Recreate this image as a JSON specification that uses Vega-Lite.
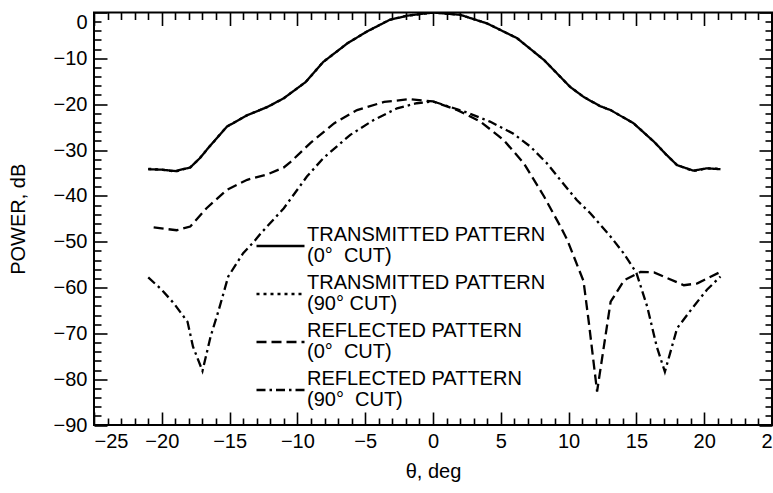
{
  "$schema": "https://vega.github.io/schema/vega-lite/v6.json",
  "width": 678,
  "height": 412.5,
  "autosize": {"type": "none"},
  "padding": {"left": 94, "top": 12.5, "right": 1, "bottom": 68},
  "background": "white",
  "data": {
    "values": [
      {"theta": -21.0, "power": -34.2, "series": "TRANSMITTED PATTERN|(0°\u00a0 CUT)"},
      {"theta": -20.0, "power": -34.3, "series": "TRANSMITTED PATTERN|(0°\u00a0 CUT)"},
      {"theta": -19.0, "power": -34.6, "series": "TRANSMITTED PATTERN|(0°\u00a0 CUT)"},
      {"theta": -17.9, "power": -33.8, "series": "TRANSMITTED PATTERN|(0°\u00a0 CUT)"},
      {"theta": -17.2, "power": -31.8, "series": "TRANSMITTED PATTERN|(0°\u00a0 CUT)"},
      {"theta": -16.5, "power": -29.3, "series": "TRANSMITTED PATTERN|(0°\u00a0 CUT)"},
      {"theta": -15.2, "power": -24.9, "series": "TRANSMITTED PATTERN|(0°\u00a0 CUT)"},
      {"theta": -13.7, "power": -22.4, "series": "TRANSMITTED PATTERN|(0°\u00a0 CUT)"},
      {"theta": -12.2, "power": -20.6, "series": "TRANSMITTED PATTERN|(0°\u00a0 CUT)"},
      {"theta": -11.0, "power": -18.7, "series": "TRANSMITTED PATTERN|(0°\u00a0 CUT)"},
      {"theta": -10.5, "power": -17.6, "series": "TRANSMITTED PATTERN|(0°\u00a0 CUT)"},
      {"theta": -9.4, "power": -15.2, "series": "TRANSMITTED PATTERN|(0°\u00a0 CUT)"},
      {"theta": -8.1, "power": -10.8, "series": "TRANSMITTED PATTERN|(0°\u00a0 CUT)"},
      {"theta": -6.3, "power": -6.7, "series": "TRANSMITTED PATTERN|(0°\u00a0 CUT)"},
      {"theta": -4.9, "power": -4.2, "series": "TRANSMITTED PATTERN|(0°\u00a0 CUT)"},
      {"theta": -3.2, "power": -1.6, "series": "TRANSMITTED PATTERN|(0°\u00a0 CUT)"},
      {"theta": -1.9, "power": -0.7, "series": "TRANSMITTED PATTERN|(0°\u00a0 CUT)"},
      {"theta": 0.0, "power": 0.0, "series": "TRANSMITTED PATTERN|(0°\u00a0 CUT)"},
      {"theta": 2.0, "power": -0.5, "series": "TRANSMITTED PATTERN|(0°\u00a0 CUT)"},
      {"theta": 4.0, "power": -2.4, "series": "TRANSMITTED PATTERN|(0°\u00a0 CUT)"},
      {"theta": 6.2, "power": -5.6, "series": "TRANSMITTED PATTERN|(0°\u00a0 CUT)"},
      {"theta": 8.2, "power": -10.4, "series": "TRANSMITTED PATTERN|(0°\u00a0 CUT)"},
      {"theta": 10.1, "power": -16.2, "series": "TRANSMITTED PATTERN|(0°\u00a0 CUT)"},
      {"theta": 11.1, "power": -18.4, "series": "TRANSMITTED PATTERN|(0°\u00a0 CUT)"},
      {"theta": 12.3, "power": -20.4, "series": "TRANSMITTED PATTERN|(0°\u00a0 CUT)"},
      {"theta": 13.1, "power": -21.3, "series": "TRANSMITTED PATTERN|(0°\u00a0 CUT)"},
      {"theta": 14.8, "power": -24.2, "series": "TRANSMITTED PATTERN|(0°\u00a0 CUT)"},
      {"theta": 16.3, "power": -28.2, "series": "TRANSMITTED PATTERN|(0°\u00a0 CUT)"},
      {"theta": 17.2, "power": -31.0, "series": "TRANSMITTED PATTERN|(0°\u00a0 CUT)"},
      {"theta": 18.0, "power": -33.3, "series": "TRANSMITTED PATTERN|(0°\u00a0 CUT)"},
      {"theta": 19.2, "power": -34.5, "series": "TRANSMITTED PATTERN|(0°\u00a0 CUT)"},
      {"theta": 20.2, "power": -34.0, "series": "TRANSMITTED PATTERN|(0°\u00a0 CUT)"},
      {"theta": 21.2, "power": -34.2, "series": "TRANSMITTED PATTERN|(0°\u00a0 CUT)"},

      {"theta": -21.0, "power": -34.1, "series": "TRANSMITTED PATTERN|(90° CUT)"},
      {"theta": -20.0, "power": -34.3, "series": "TRANSMITTED PATTERN|(90° CUT)"},
      {"theta": -19.0, "power": -34.7, "series": "TRANSMITTED PATTERN|(90° CUT)"},
      {"theta": -17.9, "power": -33.8, "series": "TRANSMITTED PATTERN|(90° CUT)"},
      {"theta": -17.2, "power": -31.8, "series": "TRANSMITTED PATTERN|(90° CUT)"},
      {"theta": -16.5, "power": -29.3, "series": "TRANSMITTED PATTERN|(90° CUT)"},
      {"theta": -15.2, "power": -24.9, "series": "TRANSMITTED PATTERN|(90° CUT)"},
      {"theta": -13.7, "power": -22.4, "series": "TRANSMITTED PATTERN|(90° CUT)"},
      {"theta": -12.2, "power": -20.6, "series": "TRANSMITTED PATTERN|(90° CUT)"},
      {"theta": -11.0, "power": -18.7, "series": "TRANSMITTED PATTERN|(90° CUT)"},
      {"theta": -10.5, "power": -17.6, "series": "TRANSMITTED PATTERN|(90° CUT)"},
      {"theta": -9.4, "power": -15.2, "series": "TRANSMITTED PATTERN|(90° CUT)"},
      {"theta": -8.1, "power": -10.8, "series": "TRANSMITTED PATTERN|(90° CUT)"},
      {"theta": -6.3, "power": -6.7, "series": "TRANSMITTED PATTERN|(90° CUT)"},
      {"theta": -4.9, "power": -4.2, "series": "TRANSMITTED PATTERN|(90° CUT)"},
      {"theta": -3.2, "power": -1.6, "series": "TRANSMITTED PATTERN|(90° CUT)"},
      {"theta": -1.9, "power": -0.7, "series": "TRANSMITTED PATTERN|(90° CUT)"},
      {"theta": 0.0, "power": 0.0, "series": "TRANSMITTED PATTERN|(90° CUT)"},
      {"theta": 2.0, "power": -0.5, "series": "TRANSMITTED PATTERN|(90° CUT)"},
      {"theta": 4.0, "power": -2.4, "series": "TRANSMITTED PATTERN|(90° CUT)"},
      {"theta": 6.2, "power": -5.6, "series": "TRANSMITTED PATTERN|(90° CUT)"},
      {"theta": 8.2, "power": -10.4, "series": "TRANSMITTED PATTERN|(90° CUT)"},
      {"theta": 10.1, "power": -16.2, "series": "TRANSMITTED PATTERN|(90° CUT)"},
      {"theta": 11.1, "power": -18.4, "series": "TRANSMITTED PATTERN|(90° CUT)"},
      {"theta": 12.3, "power": -20.4, "series": "TRANSMITTED PATTERN|(90° CUT)"},
      {"theta": 13.1, "power": -21.3, "series": "TRANSMITTED PATTERN|(90° CUT)"},
      {"theta": 14.8, "power": -24.2, "series": "TRANSMITTED PATTERN|(90° CUT)"},
      {"theta": 16.3, "power": -28.2, "series": "TRANSMITTED PATTERN|(90° CUT)"},
      {"theta": 17.2, "power": -31.0, "series": "TRANSMITTED PATTERN|(90° CUT)"},
      {"theta": 18.0, "power": -33.3, "series": "TRANSMITTED PATTERN|(90° CUT)"},
      {"theta": 19.2, "power": -34.6, "series": "TRANSMITTED PATTERN|(90° CUT)"},
      {"theta": 20.2, "power": -34.0, "series": "TRANSMITTED PATTERN|(90° CUT)"},
      {"theta": 21.2, "power": -34.1, "series": "TRANSMITTED PATTERN|(90° CUT)"},

      {"theta": -20.6, "power": -46.9, "series": "REFLECTED PATTERN|(0°\u00a0 CUT)"},
      {"theta": -18.9, "power": -47.5, "series": "REFLECTED PATTERN|(0°\u00a0 CUT)"},
      {"theta": -17.9, "power": -46.7, "series": "REFLECTED PATTERN|(0°\u00a0 CUT)"},
      {"theta": -16.7, "power": -42.7, "series": "REFLECTED PATTERN|(0°\u00a0 CUT)"},
      {"theta": -15.2, "power": -38.7, "series": "REFLECTED PATTERN|(0°\u00a0 CUT)"},
      {"theta": -13.7, "power": -36.5, "series": "REFLECTED PATTERN|(0°\u00a0 CUT)"},
      {"theta": -12.2, "power": -35.3, "series": "REFLECTED PATTERN|(0°\u00a0 CUT)"},
      {"theta": -11.0, "power": -33.8, "series": "REFLECTED PATTERN|(0°\u00a0 CUT)"},
      {"theta": -10.5, "power": -32.6, "series": "REFLECTED PATTERN|(0°\u00a0 CUT)"},
      {"theta": -9.05, "power": -28.5, "series": "REFLECTED PATTERN|(0°\u00a0 CUT)"},
      {"theta": -7.3, "power": -24.2, "series": "REFLECTED PATTERN|(0°\u00a0 CUT)"},
      {"theta": -5.6, "power": -21.3, "series": "REFLECTED PATTERN|(0°\u00a0 CUT)"},
      {"theta": -3.6, "power": -19.5, "series": "REFLECTED PATTERN|(0°\u00a0 CUT)"},
      {"theta": -1.7, "power": -18.9, "series": "REFLECTED PATTERN|(0°\u00a0 CUT)"},
      {"theta": 0.0, "power": -19.4, "series": "REFLECTED PATTERN|(0°\u00a0 CUT)"},
      {"theta": 1.8, "power": -21.3, "series": "REFLECTED PATTERN|(0°\u00a0 CUT)"},
      {"theta": 3.5, "power": -23.8, "series": "REFLECTED PATTERN|(0°\u00a0 CUT)"},
      {"theta": 5.2, "power": -27.8, "series": "REFLECTED PATTERN|(0°\u00a0 CUT)"},
      {"theta": 6.7, "power": -32.9, "series": "REFLECTED PATTERN|(0°\u00a0 CUT)"},
      {"theta": 8.2, "power": -40.2, "series": "REFLECTED PATTERN|(0°\u00a0 CUT)"},
      {"theta": 9.4, "power": -46.7, "series": "REFLECTED PATTERN|(0°\u00a0 CUT)"},
      {"theta": 9.9, "power": -49.6, "series": "REFLECTED PATTERN|(0°\u00a0 CUT)"},
      {"theta": 11.1, "power": -58.6, "series": "REFLECTED PATTERN|(0°\u00a0 CUT)"},
      {"theta": 11.5, "power": -67.8, "series": "REFLECTED PATTERN|(0°\u00a0 CUT)"},
      {"theta": 12.1, "power": -82.7, "series": "REFLECTED PATTERN|(0°\u00a0 CUT)"},
      {"theta": 13.1, "power": -63.1, "series": "REFLECTED PATTERN|(0°\u00a0 CUT)"},
      {"theta": 14.1, "power": -58.4, "series": "REFLECTED PATTERN|(0°\u00a0 CUT)"},
      {"theta": 15.3, "power": -56.6, "series": "REFLECTED PATTERN|(0°\u00a0 CUT)"},
      {"theta": 16.3, "power": -56.7, "series": "REFLECTED PATTERN|(0°\u00a0 CUT)"},
      {"theta": 18.5, "power": -59.5, "series": "REFLECTED PATTERN|(0°\u00a0 CUT)"},
      {"theta": 19.5, "power": -59.1, "series": "REFLECTED PATTERN|(0°\u00a0 CUT)"},
      {"theta": 21.2, "power": -56.6, "series": "REFLECTED PATTERN|(0°\u00a0 CUT)"},

      {"theta": -21.0, "power": -57.8, "series": "REFLECTED PATTERN|(90°\u00a0 CUT)"},
      {"theta": -20.0, "power": -60.5, "series": "REFLECTED PATTERN|(90°\u00a0 CUT)"},
      {"theta": -19.1, "power": -63.5, "series": "REFLECTED PATTERN|(90°\u00a0 CUT)"},
      {"theta": -18.1, "power": -67.5, "series": "REFLECTED PATTERN|(90°\u00a0 CUT)"},
      {"theta": -17.7, "power": -72.9, "series": "REFLECTED PATTERN|(90°\u00a0 CUT)"},
      {"theta": -17.0, "power": -78.2, "series": "REFLECTED PATTERN|(90°\u00a0 CUT)"},
      {"theta": -16.4, "power": -70.7, "series": "REFLECTED PATTERN|(90°\u00a0 CUT)"},
      {"theta": -15.8, "power": -64.9, "series": "REFLECTED PATTERN|(90°\u00a0 CUT)"},
      {"theta": -15.1, "power": -57.6, "series": "REFLECTED PATTERN|(90°\u00a0 CUT)"},
      {"theta": -14.0, "power": -52.5, "series": "REFLECTED PATTERN|(90°\u00a0 CUT)"},
      {"theta": -13.2, "power": -50.0, "series": "REFLECTED PATTERN|(90°\u00a0 CUT)"},
      {"theta": -12.7, "power": -48.2, "series": "REFLECTED PATTERN|(90°\u00a0 CUT)"},
      {"theta": -11.0, "power": -42.7, "series": "REFLECTED PATTERN|(90°\u00a0 CUT)"},
      {"theta": -9.3, "power": -35.8, "series": "REFLECTED PATTERN|(90°\u00a0 CUT)"},
      {"theta": -8.1, "power": -31.8, "series": "REFLECTED PATTERN|(90°\u00a0 CUT)"},
      {"theta": -6.1, "power": -26.7, "series": "REFLECTED PATTERN|(90°\u00a0 CUT)"},
      {"theta": -4.4, "power": -23.5, "series": "REFLECTED PATTERN|(90°\u00a0 CUT)"},
      {"theta": -2.65, "power": -20.9, "series": "REFLECTED PATTERN|(90°\u00a0 CUT)"},
      {"theta": -1.2, "power": -19.8, "series": "REFLECTED PATTERN|(90°\u00a0 CUT)"},
      {"theta": 0.0, "power": -19.4, "series": "REFLECTED PATTERN|(90°\u00a0 CUT)"},
      {"theta": 2.3, "power": -21.6, "series": "REFLECTED PATTERN|(90°\u00a0 CUT)"},
      {"theta": 4.2, "power": -23.8, "series": "REFLECTED PATTERN|(90°\u00a0 CUT)"},
      {"theta": 5.9, "power": -26.4, "series": "REFLECTED PATTERN|(90°\u00a0 CUT)"},
      {"theta": 7.2, "power": -29.3, "series": "REFLECTED PATTERN|(90°\u00a0 CUT)"},
      {"theta": 8.4, "power": -32.9, "series": "REFLECTED PATTERN|(90°\u00a0 CUT)"},
      {"theta": 9.6, "power": -37.3, "series": "REFLECTED PATTERN|(90°\u00a0 CUT)"},
      {"theta": 10.6, "power": -40.9, "series": "REFLECTED PATTERN|(90°\u00a0 CUT)"},
      {"theta": 11.6, "power": -43.8, "series": "REFLECTED PATTERN|(90°\u00a0 CUT)"},
      {"theta": 13.1, "power": -48.9, "series": "REFLECTED PATTERN|(90°\u00a0 CUT)"},
      {"theta": 14.05, "power": -52.5, "series": "REFLECTED PATTERN|(90°\u00a0 CUT)"},
      {"theta": 15.0, "power": -56.8, "series": "REFLECTED PATTERN|(90°\u00a0 CUT)"},
      {"theta": 15.8, "power": -64.2, "series": "REFLECTED PATTERN|(90°\u00a0 CUT)"},
      {"theta": 16.5, "power": -72.9, "series": "REFLECTED PATTERN|(90°\u00a0 CUT)"},
      {"theta": 17.1, "power": -78.4, "series": "REFLECTED PATTERN|(90°\u00a0 CUT)"},
      {"theta": 18.0, "power": -68.9, "series": "REFLECTED PATTERN|(90°\u00a0 CUT)"},
      {"theta": 19.2, "power": -64.2, "series": "REFLECTED PATTERN|(90°\u00a0 CUT)"},
      {"theta": 20.2, "power": -60.5, "series": "REFLECTED PATTERN|(90°\u00a0 CUT)"},
      {"theta": 21.2, "power": -57.6, "series": "REFLECTED PATTERN|(90°\u00a0 CUT)"}
    ]
  },
  "layer": [
    {
      "mark": {"type": "line", "stroke": "black", "strokeWidth": 2.3, "clip": true},
      "encoding": {
        "x": {
          "field": "theta", "type": "quantitative",
          "scale": {"domain": [-25, 25], "nice": false, "zero": false},
          "axis": {
            "orient": "bottom",
            "title": "θ, deg",
            "values": [-25, -20, -15, -10, -5, 0, 5, 10, 15, 20, 25],
            "tickSize": -13,
            "labelPadding": 19,
            "labelAlign": {"condition": {"test": "datum.value === -25", "value": "left"}, "value": "center"},
            "titlePadding": 10
          }
        },
        "y": {
          "field": "power", "type": "quantitative",
          "scale": {"domain": [-90, 0], "nice": false, "zero": false},
          "axis": {
            "orient": "left",
            "title": "POWER, dB",
            "values": [-90, -80, -70, -60, -50, -40, -30, -20, -10, 0],
            "tickSize": -13,
            "labelPadding": 20,
            "labelBaseline": {"condition": {"test": "datum.value === 0", "value": "top"}, "value": "middle"},
            "titlePadding": 25
          }
        },
        "strokeDash": {
          "field": "series", "type": "nominal",
          "scale": {
            "domain": ["TRANSMITTED PATTERN|(0°\u00a0 CUT)", "TRANSMITTED PATTERN|(90° CUT)", "REFLECTED PATTERN|(0°\u00a0 CUT)", "REFLECTED PATTERN|(90°\u00a0 CUT)"],
            "range": [[1, 0], [3, 4], [10, 5], [9, 4, 2.5, 4]]
          },
          "legend": {
            "orient": "none",
            "legendX": 161,
            "legendY": 208,
            "title": null,
            "symbolType": "stroke",
            "symbolSize": 2304,
            "symbolStrokeWidth": 2.5,
            "symbolStrokeColor": "black",
            "labelFontSize": 20,
            "labelColor": "black",
            "labelLimit": 0,
            "labelExpr": "split(datum.label, '|')",
            "rowPadding": 2,
            "labelOffset": 1,
            "padding": 0,
            "encode": {
              "labels": {"update": {"dy": {"value": -11}, "lineHeight": {"value": 21}}}
            }
          }
        },
        "order": {"field": "theta", "type": "quantitative"}
      }
    },
    {
      "mark": {"type": "line", "strokeOpacity": 0},
      "encoding": {
        "x": {
          "field": "theta", "type": "quantitative",
          "scale": {"domain": [-25, 25], "nice": false, "zero": false},
          "axis": {
            "orient": "bottom", "title": null, "labels": false,
            "values": [-24,-23,-22,-21,-19,-18,-17,-16,-14,-13,-12,-11,-9,-8,-7,-6,-4,-3,-2,-1,1,2,3,4,6,7,8,9,11,12,13,14,16,17,18,19,21,22,23,24],
            "tickSize": -7
          }
        },
        "y": {
          "field": "power", "type": "quantitative",
          "scale": {"domain": [-90, 0], "nice": false, "zero": false},
          "axis": {
            "orient": "left", "title": null, "labels": false,
            "values": [-88,-86,-84,-82,-78,-76,-74,-72,-68,-66,-64,-62,-58,-56,-54,-52,-48,-46,-44,-42,-38,-36,-34,-32,-28,-26,-24,-22,-18,-16,-14,-12,-8,-6,-4,-2],
            "tickSize": -7
          }
        },
        "detail": {"field": "series", "type": "nominal"}
      }
    },
    {
      "mark": {"type": "line", "strokeOpacity": 0},
      "encoding": {
        "x": {
          "field": "theta", "type": "quantitative",
          "scale": {"domain": [-25, 25], "nice": false, "zero": false},
          "axis": {
            "orient": "top", "title": null, "labels": false,
            "values": [-25, -20, -15, -10, -5, 0, 5, 10, 15, 20, 25],
            "tickSize": -13
          }
        },
        "y": {
          "field": "power", "type": "quantitative",
          "scale": {"domain": [-90, 0], "nice": false, "zero": false},
          "axis": {
            "orient": "right", "title": null, "labels": false,
            "values": [-90, -80, -70, -60, -50, -40, -30, -20, -10, 0],
            "tickSize": -13
          }
        },
        "detail": {"field": "series", "type": "nominal"}
      }
    },
    {
      "mark": {"type": "line", "strokeOpacity": 0},
      "encoding": {
        "x": {
          "field": "theta", "type": "quantitative",
          "scale": {"domain": [-25, 25], "nice": false, "zero": false},
          "axis": {
            "orient": "top", "title": null, "labels": false,
            "values": [-24,-23,-22,-21,-19,-18,-17,-16,-14,-13,-12,-11,-9,-8,-7,-6,-4,-3,-2,-1,1,2,3,4,6,7,8,9,11,12,13,14,16,17,18,19,21,22,23,24],
            "tickSize": -7
          }
        },
        "y": {
          "field": "power", "type": "quantitative",
          "scale": {"domain": [-90, 0], "nice": false, "zero": false},
          "axis": {
            "orient": "right", "title": null, "labels": false,
            "values": [-88,-86,-84,-82,-78,-76,-74,-72,-68,-66,-64,-62,-58,-56,-54,-52,-48,-46,-44,-42,-38,-36,-34,-32,-28,-26,-24,-22,-18,-16,-14,-12,-8,-6,-4,-2],
            "tickSize": -7
          }
        },
        "detail": {"field": "series", "type": "nominal"}
      }
    }
  ],
  "resolve": {"axis": {"x": "independent", "y": "independent"}},
  "config": {
    "font": "Liberation Sans",
    "view": {"stroke": "black", "strokeWidth": 2},
    "axis": {
      "zindex": 1,
      "grid": false,
      "domain": false,
      "ticks": true,
      "tickColor": "#000000",
      "tickOpacity": 1,
      "tickWidth": 1.6,
      "labelColor": "black",
      "labelFontSize": 20,
      "titleColor": "black",
      "titleFontSize": 20,
      "titleFontWeight": "normal",
      "labelFlush": false,
      "labelOverlap": false,
      "labelBound": false
    }
  }
}
